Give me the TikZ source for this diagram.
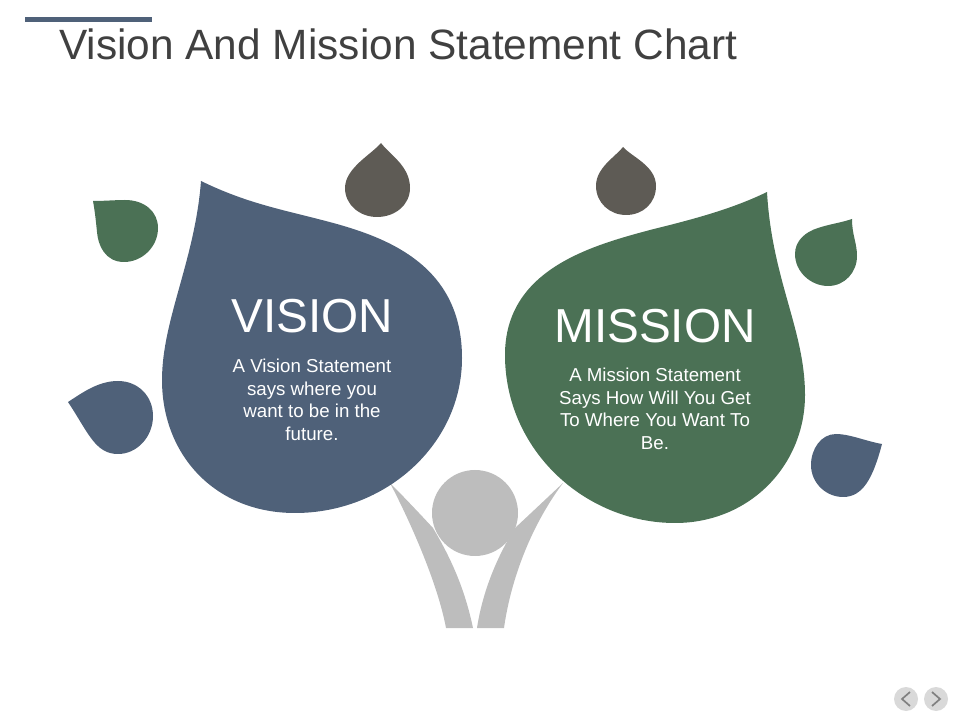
\documentclass[tikz,border=0pt]{standalone}
\usepackage{fontspec}
\setmainfont{Liberation Sans}
\definecolor{slateblue}{HTML}{4F6179}
\definecolor{leafgreen}{HTML}{4B7155}
\definecolor{dropgray}{HTML}{5E5B55}
\definecolor{persongray}{HTML}{BDBDBD}
\definecolor{titlegray}{HTML}{404040}
\tikzset{
    headtext/.style={text=white, font=\fontsize{33.9}{40}\selectfont},
    bodytext/.style={text=white, align=center, font=\fontsize{13.3}{16}\selectfont},
}
\begin{document}
\begin{tikzpicture}[x=0.025cm, y=-0.025cm]
    \useasboundingbox (0, 0) rectangle (960, 720);
    % title
    \fill[slateblue] (25, 17) rectangle (152, 22);
    \node[anchor=base west, inner sep=0, text=titlegray, font=\fontsize{30.15}{36}\selectfont] (title) at (59, 60) {Vision And Mission Statement Chart};
    % person
    \fill[persongray] (390, 483) .. controls (405, 498) and (420, 514) .. (433, 528) .. controls (452, 560) and (465, 590) .. (473, 628) -- (446, 628) .. controls (438, 585) and (412, 525) .. (390, 483);
    \fill[persongray] (563, 483) .. controls (547, 498) and (530, 514) .. (515, 528) .. controls (495, 560) and (482, 595) .. (477, 628) -- (504, 628) .. controls (510, 585) and (528, 530) .. (563, 483);
    \fill[persongray] (475, 513) circle (43);
    % vision leaf
    \fill[slateblue] (201, 181) .. controls (240, 200) and (270, 207) .. (310, 217) .. controls (370, 232) and (462, 255) .. (462, 358) .. controls (462, 445) and (385, 513) .. (295, 513) .. controls (215, 513) and (162, 455) .. (162, 380) .. controls (162, 320) and (195, 260) .. (201, 181);
    % mission leaf
    \fill[leafgreen] (767, 192) .. controls (730, 210) and (690, 220) .. (650, 230) .. controls (590, 246) and (505, 270) .. (505, 355) .. controls (505, 450) and (585, 523) .. (675, 523) .. controls (750, 523) and (805, 465) .. (805, 395) .. controls (805, 330) and (772, 280) .. (767, 192);
    % top drops
    \fill[dropgray] (381, 143) .. controls (372, 154) and (345, 168) .. (345, 188) .. controls (345, 205) and (360, 217) .. (377, 217) .. controls (395, 217) and (410, 205) .. (410, 188) .. controls (410, 166) and (390, 155) .. (381, 143);
    \fill[dropgray] (623, 147) .. controls (614, 158) and (596, 168) .. (596, 186) .. controls (596, 203) and (610, 215) .. (626, 215) .. controls (643, 215) and (656, 203) .. (656, 186) .. controls (656, 166) and (632, 157) .. (623, 147);
    % left drops
    \fill[leafgreen] (93, 201) .. controls (105, 201) and (115, 200) .. (125, 200) .. controls (145, 200) and (158, 212) .. (158, 228) .. controls (158, 247) and (142, 262) .. (124, 262) .. controls (105, 262) and (98, 245) .. (97, 232) .. controls (96, 222) and (95, 212) .. (93, 201);
    \fill[slateblue] (68, 402) .. controls (82, 393) and (98, 381) .. (118, 381) .. controls (138, 381) and (153, 396) .. (153, 416) .. controls (153, 437) and (137, 454) .. (118, 454) .. controls (95, 454) and (88, 432) .. (68, 402);
    % right drops
    \fill[leafgreen] (852, 219) .. controls (840, 223) and (830, 224) .. (818, 228) .. controls (805, 232) and (795, 241) .. (795, 254) .. controls (795, 272) and (811, 286) .. (828, 286) .. controls (845, 286) and (857, 272) .. (857, 256) .. controls (857, 243) and (852, 235) .. (852, 219);
    \fill[slateblue] (882, 444) .. controls (865, 441) and (850, 434) .. (836, 434) .. controls (821, 434) and (811, 449) .. (811, 465) .. controls (811, 483) and (826, 497) .. (843, 497) .. controls (863, 497) and (873, 478) .. (882, 444);
    % texts
    \node[headtext] (vision) at (312, 316) {VISION};
    \node[bodytext] (visiontext) at (312, 400) {A Vision Statement\\says where you\\want to be in the\\future.};
    \node[headtext] (mission) at (655, 326) {MISSION};
    \node[bodytext] (missiontext) at (655, 409) {A Mission Statement\\Says How Will You Get\\To Where You Want To\\Be.};
    % nav buttons
    \fill[gray!30] (906, 699) circle (12);
    \fill[gray!30] (936, 699) circle (12);
    \draw[gray, line width=1.2pt] (910, 692) -- (902, 699) -- (910, 706);
    \draw[gray, line width=1.2pt] (932, 692) -- (940, 699) -- (932, 706);
\end{tikzpicture}
\end{document}
